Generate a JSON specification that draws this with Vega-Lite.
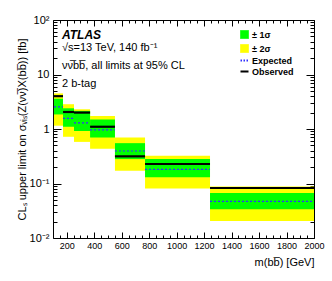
{
  "$schema": "https://vega.github.io/schema/vega-lite/v6.json",
  "autosize": "none",
  "width": 261,
  "height": 218,
  "padding": {"left": 53, "top": 20, "right": 18, "bottom": 43},
  "background": "white",
  "title": {
    "text": "ATLAS",
    "subtitle": ["√s=13 TeV, 140 fb⁻¹", "νν̅bb̅, all limits at 95% CL", "2 b-tag"],
    "anchor": "start",
    "frame": "group",
    "orient": "top",
    "offset": -76,
    "dx": 9,
    "font": "Liberation Sans",
    "fontSize": 12,
    "fontStyle": "italic",
    "fontWeight": "bold",
    "color": "black",
    "subtitleFont": "Liberation Sans",
    "subtitleFontSize": 11,
    "subtitleColor": "black",
    "subtitleLineHeight": 18,
    "subtitlePadding": 0
  },
  "data": {
    "values": [
      {"lo": 107, "hi": 173, "m2lo": 1.15, "m1lo": 1.85, "exp": 2.55, "m1hi": 3.6, "m2hi": 4.5, "obs": 4.0},
      {"lo": 173, "hi": 253, "m2lo": 0.72, "m1lo": 1.1, "exp": 1.57, "m1hi": 2.4, "m2hi": 2.85, "obs": 2.05},
      {"lo": 253, "hi": 370, "m2lo": 0.58, "m1lo": 0.92, "exp": 1.3, "m1hi": 2.15, "m2hi": 2.3, "obs": 2.0},
      {"lo": 370, "hi": 551, "m2lo": 0.435, "m1lo": 0.7, "exp": 0.96, "m1hi": 1.5, "m2hi": 1.73, "obs": 1.1},
      {"lo": 551, "hi": 770, "m2lo": 0.172, "m1lo": 0.28, "exp": 0.395, "m1hi": 0.55, "m2hi": 0.7, "obs": 0.315},
      {"lo": 770, "hi": 1243, "m2lo": 0.081, "m1lo": 0.13, "exp": 0.182, "m1hi": 0.282, "m2hi": 0.324, "obs": 0.228},
      {"lo": 1243, "hi": 2000, "m2lo": 0.0206, "m1lo": 0.0336, "exp": 0.047, "m1hi": 0.0668, "m2hi": 0.088, "obs": 0.0826}
    ]
  },
  "config": {
    "view": {"stroke": "black", "strokeWidth": 1},
    "axis": {
      "labelFont": "Liberation Sans",
      "titleFont": "Liberation Sans",
      "labelColor": "black",
      "titleColor": "black",
      "tickColor": "black",
      "domain": false,
      "grid": false,
      "titleFontWeight": "normal"
    },
    "legend": {
      "orient": "none",
      "legendX": 187,
      "legendY": 10,
      "labelFont": "Liberation Sans",
      "labelFontSize": 9,
      "labelFontWeight": "bold",
      "labelColor": "black",
      "rowPadding": 1,
      "symbolSize": 64,
      "labelOffset": 3
    }
  },
  "resolve": {"axis": {"x": "independent", "y": "independent"}},
  "layer": [
    {
      "mark": {"type": "rect"},
      "encoding": {
        "x": {"field": "lo", "type": "quantitative",
          "scale": {"domain": [100, 2000], "nice": false, "zero": false},
          "axis": {"orient": "bottom", "values": [200, 400, 600, 800, 1000, 1200, 1400, 1600, 1800, 2000],
            "format": "d",
            "tickSize": -6, "labelFontSize": 9, "labelPadding": 9, "labelFlush": false, "labelOverlap": false,
            "title": "m(bb̅) [GeV]", "titleFontSize": 11, "titleAnchor": "end", "titlePadding": 6}},
        "x2": {"field": "hi"},
        "y": {"field": "m2lo", "type": "quantitative",
          "scale": {"type": "log", "domain": [0.01, 100], "nice": false},
          "axis": {"orient": "left", "values": [0.01, 0.1, 1, 10, 100], "tickSize": -8,
            "labelFontSize": 11, "labelPadding": 12, "labelFlush": false, "labelOverlap": false,
            "labelExpr": "datum.value >= 99 ? '10²' : datum.value >= 9 ? '10' : datum.value >= 0.9 ? '1' : datum.value >= 0.09 ? '10⁻¹' : '10⁻²'",
            "title": "CLₛ upper limit on σᵥᵢₛ(Z(νν̅)X(bb̅)) [fb]", "titleFontSize": 11, "titlePadding": 2}},
        "y2": {"field": "m2hi"},
        "color": {"datum": "± 2σ", "type": "nominal",
          "scale": {"domain": ["± 1σ", "± 2σ", "Expected", "Observed"], "range": ["#00ff00", "#ffff00", "#3030ff", "#000000"]},
          "legend": {
            "title": null,
            "encode": {
              "symbols": {
                "update": {
                  "shape": {"signal": "datum.value === 'Expected' || datum.value === 'Observed' ? 'stroke' : 'square'"},
                  "size": {"value": 64},
                  "fill": {"signal": "datum.value === 'Expected' || datum.value === 'Observed' ? 'transparent' : scale('color', datum.value)"},
                  "stroke": {"signal": "datum.value === 'Expected' ? '#4040ff' : datum.value === 'Observed' ? 'black' : '#333333'"},
                  "strokeDash": {"signal": "datum.value === 'Expected' ? [1.5, 1.5] : [1, 0]"},
                  "strokeWidth": {"signal": "datum.value === 'Expected' || datum.value === 'Observed' ? 2 : 0.8"},
                  "opacity": {"value": 1},
                  "fillOpacity": {"value": 1},
                  "strokeOpacity": {"value": 1}
                }
              }
            }
          }}
      }
    },
    {
      "mark": {"type": "rect"},
      "encoding": {
        "x": {"field": "lo", "type": "quantitative",
          "scale": {"domain": [100, 2000], "nice": false, "zero": false},
          "axis": {"orient": "bottom", "values": [150, 250, 300, 350, 450, 500, 550, 650, 700, 750, 850, 900, 950, 1050, 1100, 1150, 1250, 1300, 1350, 1450, 1500, 1550, 1650, 1700, 1750, 1850, 1900, 1950],
            "tickSize": -3, "labels": false, "title": null}},
        "x2": {"field": "hi"},
        "y": {"field": "m1lo", "type": "quantitative",
          "scale": {"type": "log", "domain": [0.01, 100], "nice": false},
          "axis": {"orient": "left", "values": [0.02, 0.03, 0.04, 0.05, 0.06, 0.07, 0.08, 0.09, 0.2, 0.3, 0.4, 0.5, 0.6, 0.7, 0.8, 0.9, 2, 3, 4, 5, 6, 7, 8, 9, 20, 30, 40, 50, 60, 70, 80, 90],
            "tickSize": -4, "labels": false, "title": null}},
        "y2": {"field": "m1hi"},
        "color": {"datum": "± 1σ", "type": "nominal"}
      }
    },
    {
      "mark": {"type": "rule", "strokeWidth": 1.2, "strokeDash": [2, 2]},
      "encoding": {
        "x": {"field": "lo", "type": "quantitative",
          "scale": {"domain": [100, 2000], "nice": false, "zero": false},
          "axis": {"orient": "top", "values": [200, 400, 600, 800, 1000, 1200, 1400, 1600, 1800, 2000],
            "tickSize": -6, "labels": false, "title": null}},
        "x2": {"field": "hi"},
        "y": {"field": "exp", "type": "quantitative",
          "scale": {"type": "log", "domain": [0.01, 100], "nice": false},
          "axis": {"orient": "right", "values": [0.01, 0.1, 1, 10, 100], "tickSize": -8, "labels": false, "title": null}},
        "color": {"datum": "Expected", "type": "nominal"}
      }
    },
    {
      "mark": {"type": "rule", "strokeWidth": 2.2},
      "encoding": {
        "x": {"field": "lo", "type": "quantitative",
          "scale": {"domain": [100, 2000], "nice": false, "zero": false},
          "axis": {"orient": "top", "values": [150, 250, 300, 350, 450, 500, 550, 650, 700, 750, 850, 900, 950, 1050, 1100, 1150, 1250, 1300, 1350, 1450, 1500, 1550, 1650, 1700, 1750, 1850, 1900, 1950],
            "tickSize": -3, "labels": false, "title": null}},
        "x2": {"field": "hi"},
        "y": {"field": "obs", "type": "quantitative",
          "scale": {"type": "log", "domain": [0.01, 100], "nice": false},
          "axis": {"orient": "right", "values": [0.02, 0.03, 0.04, 0.05, 0.06, 0.07, 0.08, 0.09, 0.2, 0.3, 0.4, 0.5, 0.6, 0.7, 0.8, 0.9, 2, 3, 4, 5, 6, 7, 8, 9, 20, 30, 40, 50, 60, 70, 80, 90],
            "tickSize": -4, "labels": false, "title": null}},
        "color": {"datum": "Observed", "type": "nominal"}
      }
    }
  ]
}
